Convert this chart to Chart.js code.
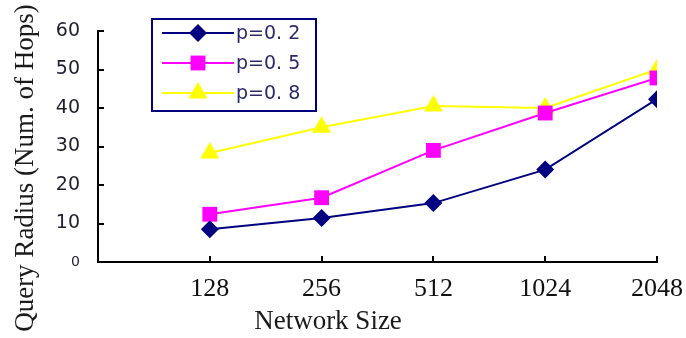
<!DOCTYPE html>
<html>
<head>
<meta charset="utf-8">
<script src="https://cdn.jsdelivr.net/npm/chart.js@4/dist/chart.umd.min.js"></script>
<style>
  html, body { margin: 0; padding: 0; background: #ffffff; }
  #wrap { width: 686px; height: 338px; }
</style>
</head>
<body>
<div id="wrap"><canvas id="c" width="686" height="338"></canvas></div>
<script>
// Network sizes on the x axis
const networkSizes = ['128', '256', '512', '1024', '2048'];
// Series names
const seriesNames = ['p=0. 2', 'p=0. 5', 'p=0. 8'];
// Query radius (number of hops) per network size
const hopsP02 = [8.5, 11.4, 15.3, 24.0, 42.3];
const hopsP05 = [12.4, 16.7, 29.0, 38.7, 47.8];
const hopsP08 = [28.3, 35.0, 40.5, 40.0, 50.0];
// Y axis ticks
const yTicks = [0, 10, 20, 30, 40, 50, 60];

const xTitle = 'Network Size';
const yTitle = 'Query Radius (Num. of Hops)';

const SERIF = '"Liberation Serif", "Times New Roman", serif';
const SANS = '"DejaVu Sans", Verdana, sans-serif';

const toPoints = arr => arr.map((v, i) => ({ x: i + 1, y: v }));

const styles = [
  { color: '#000080', pointStyle: 'rectRot', radius: 9 },
  { color: '#FF00FF', pointStyle: 'rect', radius: 10.5 },
  { color: '#FFFF00', pointStyle: 'triangle', radius: 11 }
];
const seriesValues = [hopsP02, hopsP05, hopsP08];

const datasets = seriesValues.map((vals, i) => ({
  label: seriesNames[i],
  data: toPoints(vals),
  borderColor: styles[i].color,
  backgroundColor: styles[i].color,
  borderWidth: 2,
  pointStyle: styles[i].pointStyle,
  pointRadius: styles[i].radius,
  pointBorderWidth: 0,
  pointHoverRadius: styles[i].radius,
  tension: 0
}));

function drawMarker(ctx, style, x, y) {
  if (Chart.helpers && Chart.helpers.drawPoint) {
    ctx.fillStyle = style.color;
    ctx.strokeStyle = style.color;
    ctx.lineWidth = 0.01;
    Chart.helpers.drawPoint(ctx, { pointStyle: style.pointStyle, radius: style.radius, rotation: 0, borderWidth: 0 }, x, y);
  }
}

const decorations = {
  id: 'decorations',
  beforeDatasetsDraw(chart) {
    const { ctx, scales: { x, y } } = chart;
    ctx.save();
    ctx.strokeStyle = '#000000';
    ctx.lineWidth = 2;
    ctx.beginPath();
    // inward tick marks on the y axis
    yTicks.slice(1).forEach(v => {
      const py = Math.round(y.getPixelForValue(v));
      ctx.moveTo(x.left, py);
      ctx.lineTo(x.left + 6, py);
    });
    // inward tick marks on the x axis
    networkSizes.forEach((_, i) => {
      const px = Math.round(x.getPixelForValue(i + 1));
      ctx.moveTo(px, y.bottom);
      ctx.lineTo(px, y.bottom - 6);
    });
    ctx.stroke();
    ctx.restore();
  },
  afterDraw(chart) {
    const { ctx } = chart;
    ctx.save();
    // axis titles
    ctx.fillStyle = '#1a1a1a';
    ctx.font = '27px ' + SERIF;
    ctx.textAlign = 'center';
    ctx.textBaseline = 'alphabetic';
    ctx.fillText(xTitle, 328, 329);
    ctx.save();
    ctx.translate(33, 168);
    ctx.rotate(-Math.PI / 2);
    ctx.fillText(yTitle, 0, 0);
    ctx.restore();

    // legend box
    const bx = 152, by = 19, bw = 164, bh = 92;
    ctx.fillStyle = '#ffffff';
    ctx.fillRect(bx, by, bw, bh);
    ctx.strokeStyle = '#000080';
    ctx.lineWidth = 2;
    ctx.strokeRect(bx, by, bw, bh);
    const rows = [33, 63, 93];
    chart.data.datasets.forEach((ds, i) => {
      const ry = rows[i];
      ctx.strokeStyle = ds.borderColor;
      ctx.lineWidth = 2;
      ctx.beginPath();
      ctx.moveTo(162, ry);
      ctx.lineTo(234, ry);
      ctx.stroke();
      drawMarker(ctx, styles[i], 198, ry);
      ctx.fillStyle = '#2a2a6a';
      ctx.font = '19px ' + SANS;
      ctx.textAlign = 'left';
      ctx.textBaseline = 'middle';
      ctx.fillText(ds.label, 236, ry + 1);
    });
    ctx.restore();
  }
};

new Chart(document.getElementById('c'), {
  type: 'line',
  data: { datasets },
  options: {
    responsive: false,
    animation: false,
    devicePixelRatio: 1,
    layout: { padding: { left: 0, right: 29, top: 31, bottom: 0 } },
    plugins: {
      legend: { display: false },
      tooltip: { enabled: false },
      title: { display: false }
    },
    scales: {
      x: {
        type: 'linear',
        min: 0,
        max: 5,
        grid: { display: false, drawTicks: false },
        border: { display: true, color: '#000000', width: 2 },
        afterFit(scale) {
          scale.height = 76;
          scale.paddingLeft = 0;
          scale.paddingRight = 0;
        },
        afterBuildTicks(scale) {
          scale.ticks = networkSizes.map((_, i) => ({ value: i + 1 }));
        },
        ticks: {
          autoSkip: false,
          maxRotation: 0,
          padding: 12,
          color: '#111111',
          font: { family: SERIF, size: 26 },
          callback: v => networkSizes[v - 1] || ''
        }
      },
      y: {
        type: 'linear',
        min: 0,
        max: 60,
        grid: { display: false, drawTicks: false },
        border: { display: true, color: '#000000', width: 2 },
        afterFit(scale) {
          scale.width = 98;
          scale.paddingTop = 0;
          scale.paddingBottom = 0;
        },
        afterBuildTicks(scale) {
          scale.ticks = yTicks.map(v => ({ value: v }));
        },
        ticks: {
          padding: 18,
          color: '#1e1e2e',
          font: ctx => (ctx.tick && ctx.tick.value === 0)
            ? { family: SANS, size: 14 }
            : { family: SANS, size: 19 }
        }
      }
    }
  },
  plugins: [decorations]
});
</script>
</body>
</html>
